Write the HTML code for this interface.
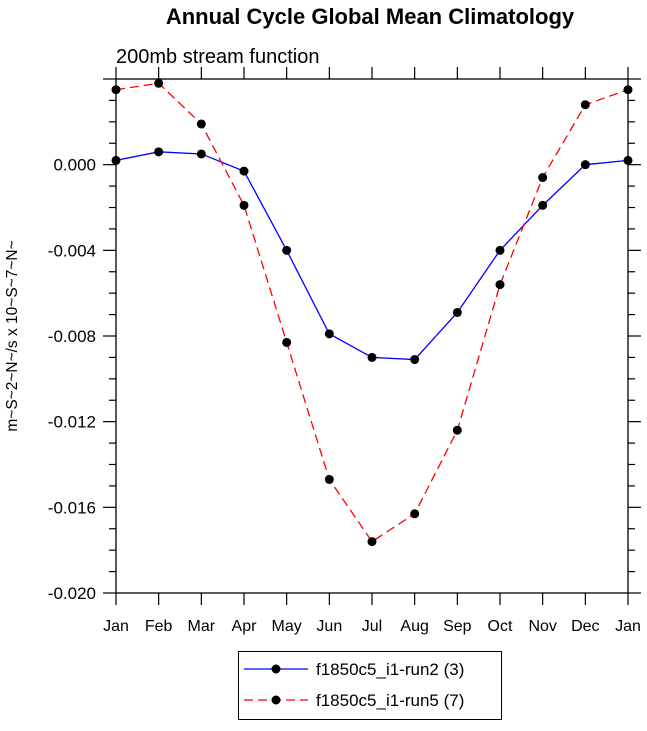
<!DOCTYPE html>
<html><head><meta charset="utf-8"><style>
body{margin:0;background:#fff;}
svg text{font-family:"Liberation Sans",Arial,sans-serif;}
</style></head><body>
<svg id="c" width="647" height="726" xmlns="http://www.w3.org/2000/svg">
<text x="370" y="24" text-anchor="middle" font-size="22" font-weight="bold">Annual Cycle Global Mean Climatology</text>
<text x="116" y="63" font-size="20">200mb stream function</text>
<text transform="translate(17,336) rotate(-90)" text-anchor="middle" font-size="15.5">m~S~2~N~/s x 10~S~7~N~</text>
<g id="axes"></g>
<g id="series"></g>
<g>
<rect x="238.5" y="651.5" width="263" height="68" fill="#fff" stroke="#000"/>
<g>
<line x1="244" y1="669" x2="308" y2="669" stroke="#0000ff" stroke-width="1.3"/>
<circle cx="276" cy="669" r="4.5" fill="#000"/>
<text x="316" y="675" font-size="17">f1850c5_i1-run2 (3)</text></g>
<g>
<line x1="244" y1="700" x2="308" y2="700" stroke="#ff0000" stroke-width="1.3" stroke-dasharray="9,5"/>
<circle cx="276" cy="700" r="4.5" fill="#000"/>
<text x="316" y="706" font-size="17">f1850c5_i1-run5 (7)</text></g>
</g>
</svg>
<script>
const months=["Jan","Feb","Mar","Apr","May","Jun","Jul","Aug","Sep","Oct","Nov","Dec","Jan"];
const run2=[0.0002,0.0006,0.0005,-0.0003,-0.0040,-0.0079,-0.0090,-0.0091,-0.0069,-0.0040,-0.0019,0.0000,0.0002];
const run5=[0.0035,0.0038,0.0019,-0.0019,-0.0083,-0.0147,-0.0176,-0.0163,-0.0124,-0.0056,-0.0006,0.0028,0.0035];
const yTicks=[0.000,-0.004,-0.008,-0.012,-0.016,-0.020];
const yTickLabels=["0.000","-0.004","-0.008","-0.012","-0.016","-0.020"];
const L=116,R=628,T=79,B=593,ymin=-0.020,ymax=0.004;
const X=i=>L+(R-L)*i/(months.length-1);
const Y=v=>B-(v-ymin)/(ymax-ymin)*(B-T);
const NS="http://www.w3.org/2000/svg";
function mk(t,a,p){const e=document.createElementNS(NS,t);for(const k in a)e.setAttribute(k,a[k]);p.appendChild(e);return e;}
const ax=document.getElementById('axes');
const fr=mk('rect',{x:L,y:T,width:R-L,height:B-T,fill:'none',stroke:'#000','stroke-width':1.3},ax);


months.forEach((m,i)=>{
 const x=X(i);
 mk('line',{x1:x,y1:B,x2:x,y2:B+12,stroke:'#000','stroke-width':1.2},ax);
 mk('line',{x1:x,y1:T,x2:x,y2:T-12,stroke:'#000','stroke-width':1.2},ax);
 const t=mk('text',{x:x,y:B+38,'text-anchor':'middle','font-size':16},ax);
 t.textContent=m;
 
 
});
for(let k=0;k<=24;k++){
 const v=ymin+k*0.001,y=Y(v),maj=(k%4===0);
 const len=maj?13:7;
 mk('line',{x1:L,y1:y,x2:L-len,y2:y,stroke:'#000','stroke-width':1.2},ax);
 mk('line',{x1:R,y1:y,x2:R+len,y2:y,stroke:'#000','stroke-width':1.2},ax);
}
yTicks.forEach((v,i)=>{
 const t=mk('text',{x:L-20,y:Y(v)+6,'text-anchor':'end','font-size':17},ax);
 t.textContent=yTickLabels[i];
 
 
});
const sg=document.getElementById('series');
function draw(d,col,dash,name){
 const g=mk('g',{},sg);
 
 
 const p=mk('polyline',{points:d.map((v,i)=>X(i)+','+Y(v)).join(' '),fill:'none',stroke:col,'stroke-width':1.3},g);
 if(dash)p.setAttribute('stroke-dasharray',dash);
 d.forEach((v,i)=>{
  const c=mk('circle',{cx:X(i),cy:Y(v),r:4.5,fill:'#000'},g);
  
  
 });
}
draw(run2,'#0000ff',null,'series-run2');
draw(run5,'#ff0000','9,5','series-run5');
</script>
</body></html>
